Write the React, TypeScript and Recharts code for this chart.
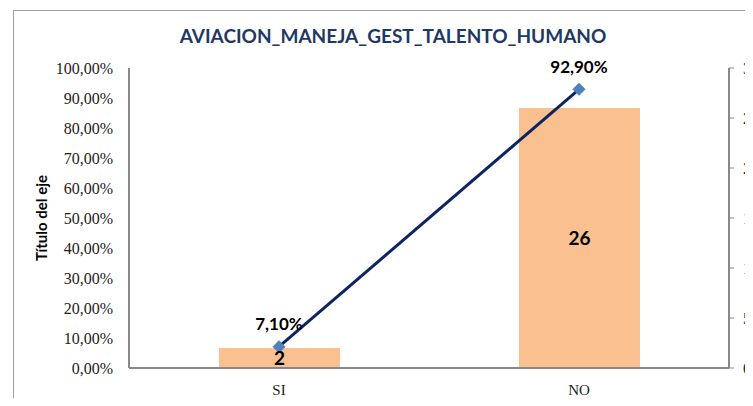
import React from 'react';
import { ComposedChart, Bar, Line, XAxis, YAxis, LabelList } from 'recharts';

const categories = ['SI', 'NO'];
const counts = [2, 26];
const percents = [0.071, 0.929];
const percentTicks = [0, 0.1, 0.2, 0.3, 0.4, 0.5, 0.6, 0.7, 0.8, 0.9, 1];
const countTicks = [0, 5, 10, 15, 20, 25, 30];

const data = categories.map((cat, i) => ({ cat, count: counts[i], pct: percents[i] }));

const fmtPct = (v: number) => (v * 100).toFixed(2).replace('.', ',') + '%';

const CHART_W = 800;
const MARGIN_RIGHT = 19;
const RIGHT_AXIS_W = 60;
const RIGHT_AXIS_X = CHART_W - MARGIN_RIGHT - RIGHT_AXIS_W;

const axisColor = '#888888';
const tickStyle = { fill: '#222', fontSize: 16, fontFamily: '"Liberation Serif", serif' };

const Diamond = (props: any) => {
  const { cx, cy } = props;
  if (cx == null || cy == null) return null;
  const r = 6;
  return (
    <polygon
      points={`${cx},${cy - r} ${cx + r},${cy} ${cx},${cy + r} ${cx - r},${cy}`}
      fill="#4F81BD"
      stroke="#4F81BD"
    />
  );
};

const PctLabel = (props: any) => {
  const { x, y, value } = props;
  return (
    <text
      x={x}
      y={y - 23}
      textAnchor="middle"
      dominantBaseline="central"
      fontFamily="Lato, sans-serif"
      fontWeight={700}
      fontSize={17}
      fill="#000"
    >
      {fmtPct(value)}
    </text>
  );
};

const RightTick = (props: any) => {
  const { y, payload } = props;
  return (
    <g>
      <line x1={RIGHT_AXIS_X} x2={RIGHT_AXIS_X + 5} y1={y} y2={y} stroke={axisColor} strokeWidth={1} />
      <text
        x={RIGHT_AXIS_X + 14}
        y={y}
        dominantBaseline="central"
        textAnchor="start"
        fill="#222"
        fontSize={16}
        fontFamily='"Liberation Serif", serif'
      >
        {payload.value}
      </text>
    </g>
  );
};

export default function App() {
  return (
    <div
      style={{
        position: 'relative',
        width: 745,
        height: 398,
        marginBottom: -8,
        overflow: 'hidden',
        background: '#fff',
      }}
    >
      <div
        style={{
          position: 'absolute',
          left: 5,
          top: 2,
          width: 800,
          height: 500,
          border: '1.5px solid #a0a0a0',
        }}
      />
      <div
        style={{
          position: 'absolute',
          left: 0,
          width: 770,
          top: 16,
          textAlign: 'center',
          fontFamily: 'Lato, sans-serif',
          fontWeight: 700,
          fontSize: 19,
          color: '#1F3864',
        }}
      >
        AVIACION_MANEJA_GEST_TALENTO_HUMANO
      </div>
      <div style={{ position: 'absolute', left: 0, top: 0 }}>
        <ComposedChart
          width={CHART_W}
          height={398}
          data={data}
          margin={{ top: 60, right: MARGIN_RIGHT, bottom: 8, left: 0 }}
        >
          <XAxis
            dataKey="cat"
            xAxisId="x"
            axisLine={{ stroke: axisColor, strokeWidth: 2 }}
            tickLine={false}
            tickSize={0}
            tickMargin={16}
            height={30}
            tick={{ ...tickStyle, fontSize: 15 }}
          />
          <YAxis
            yAxisId="pct"
            orientation="left"
            domain={[0, 1]}
            ticks={percentTicks}
            tickFormatter={fmtPct}
            width={121}
            axisLine={{ stroke: axisColor, strokeWidth: 2 }}
            tickLine={false}
            tickSize={0}
            tickMargin={16}
            tick={tickStyle}
            label={{
              value: 'Título del eje',
              angle: -90,
              position: 'insideLeft',
              offset: 34,
              style: { fontFamily: 'Lato, sans-serif', fontWeight: 700, fontSize: 15, fill: '#000', textAnchor: 'middle' },
            }}
          />
          <YAxis
            yAxisId="cnt"
            orientation="right"
            domain={[0, 30]}
            ticks={countTicks}
            width={RIGHT_AXIS_W}
            axisLine={{ stroke: axisColor, strokeWidth: 2 }}
            tickLine={false}
            tick={<RightTick />}
          />
          <Bar
            dataKey="count"
            xAxisId="x"
            yAxisId="cnt"
            fill="#FAC090"
            barSize={121}
            isAnimationActive={false}
          >
            <LabelList
              dataKey="count"
              position="center"
              style={{ fontFamily: 'Lato, sans-serif', fontWeight: 700, fontSize: 19, fill: '#000' }}
            />
          </Bar>
          <Line
            dataKey="pct"
            xAxisId="x"
            yAxisId="pct"
            stroke="#0C2461"
            strokeWidth={3}
            dot={<Diamond />}
            activeDot={false}
            isAnimationActive={false}
          >
            <LabelList dataKey="pct" content={<PctLabel />} />
          </Line>
        </ComposedChart>
      </div>
    </div>
  );
}
